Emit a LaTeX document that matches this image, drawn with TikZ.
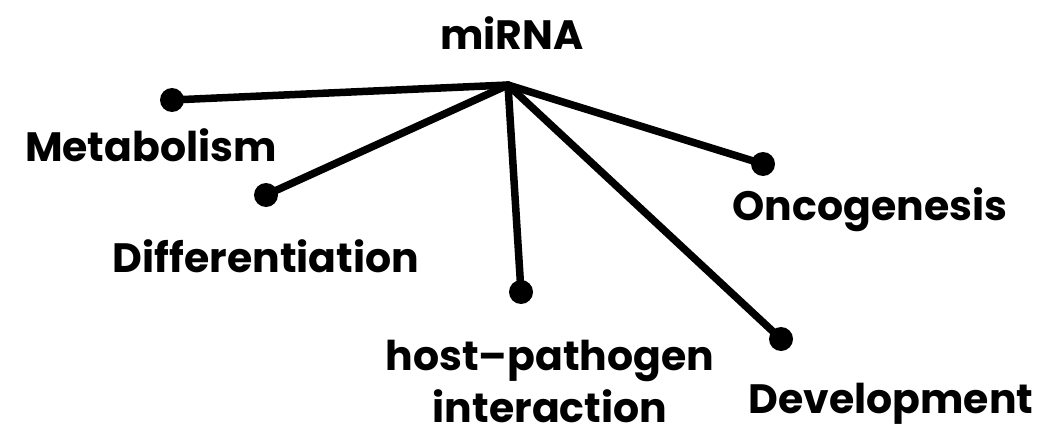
\documentclass[tikz,border=0pt]{standalone}
\usepackage{fontspec}
\setmainfont{Poppins}
\begin{document}
\begin{tikzpicture}[x=1pt,y=-1pt,
  lbl/.style={font=\fontsize{41}{52}\selectfont\bfseries, inner sep=0pt, align=center},
  dotend/.style={circle, fill=black, minimum size=24pt, inner sep=0pt},
  spoke/.style={line width=7.5pt, line cap=round}]
\useasboundingbox (0,0) rectangle (1057,436);
\coordinate (hub) at (508,85);
\node[lbl] (mirna) at (512,33) {miRNA};
\node[dotend] (d1) at (172,100) {};
\node[dotend] (d2) at (266,195) {};
\node[dotend] (d3) at (521,292) {};
\node[dotend] (d4) at (763,164) {};
\node[dotend] (d5) at (781,339) {};
\draw[spoke] (hub) -- (d1.center);
\draw[spoke] (hub) -- (d2.center);
\draw[spoke] (hub) -- (d3.center);
\draw[spoke] (hub) -- (d4.center);
\draw[spoke] (hub) -- (d5.center);
\node[lbl] (metab) at (151,145) {Metabolism};
\node[lbl] (diff) at (266,256) {Differentiation};
\node[lbl] (onco) at (870,210) {Oncogenesis};
\node[lbl] (host) at (550,381) {host–pathogen\\interaction};
\node[lbl] (devel) at (891,404) {Development};
\end{tikzpicture}
\end{document}
